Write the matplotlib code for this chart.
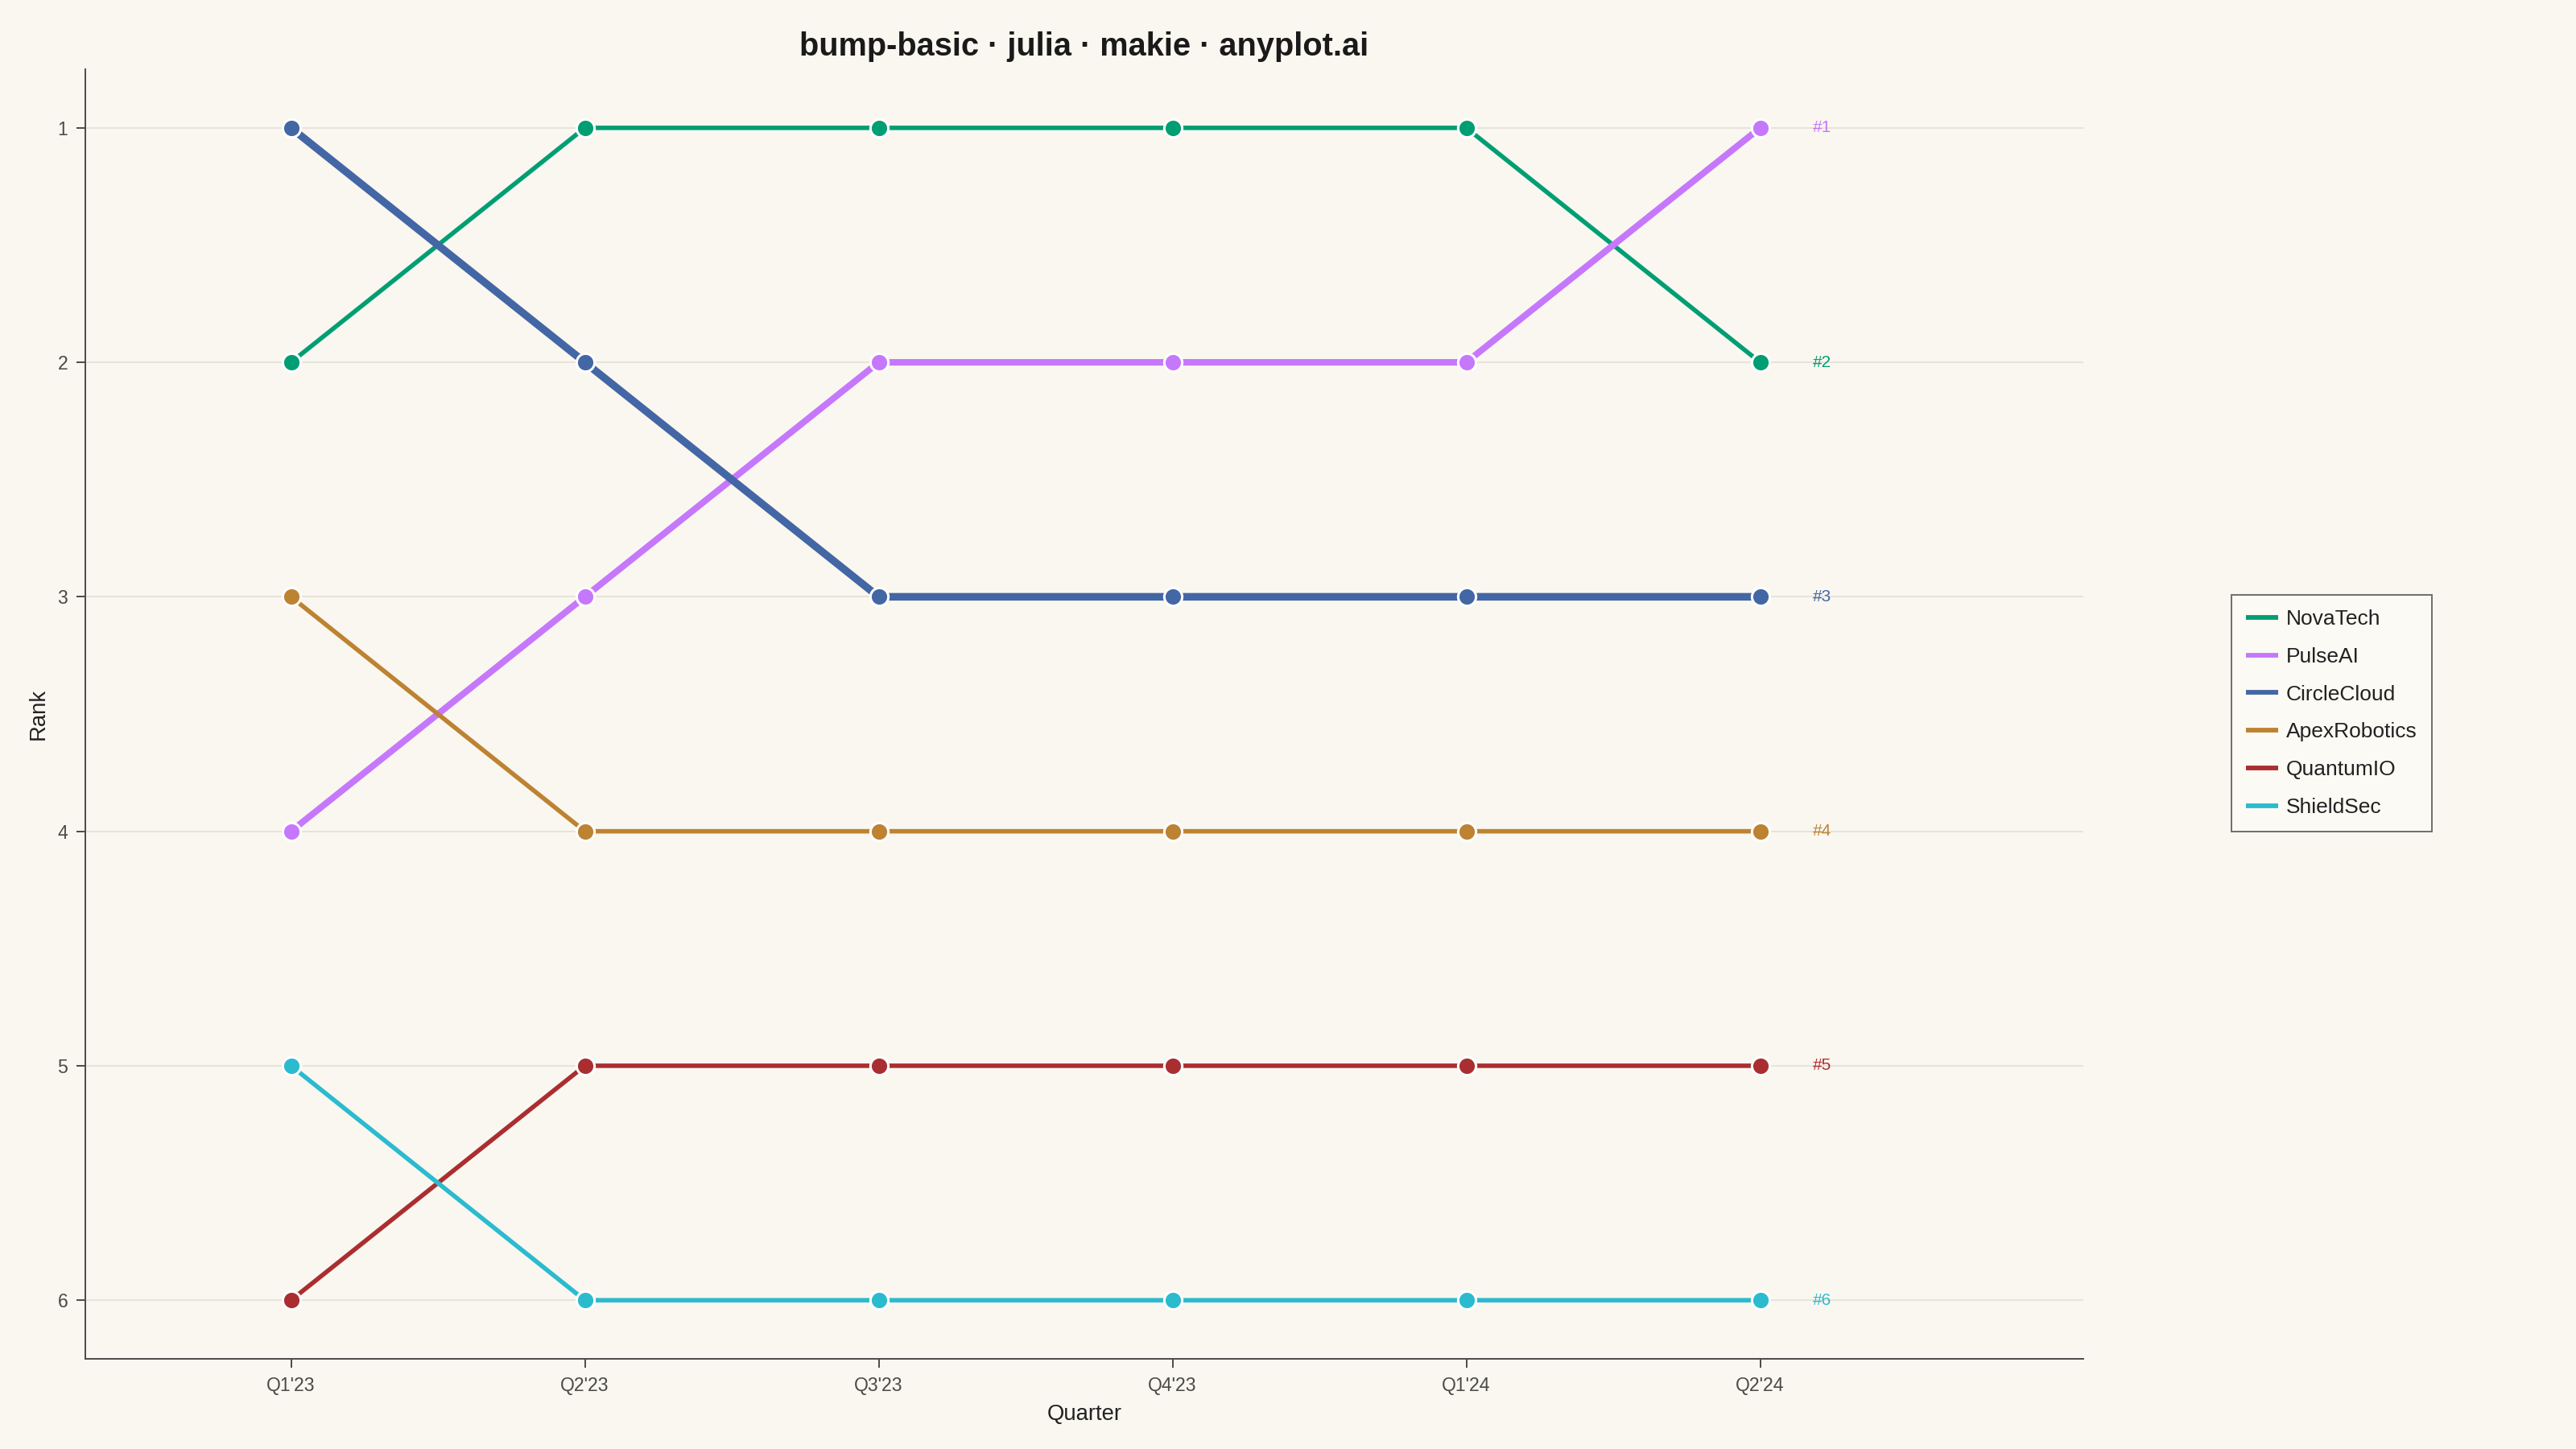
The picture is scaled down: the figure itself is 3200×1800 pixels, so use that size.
import matplotlib
matplotlib.use("Agg")
import matplotlib.pyplot as plt

plt.rcParams['font.family'] = ['Liberation Sans', 'DejaVu Sans']

quarters = ["Q1'23", "Q2'23", "Q3'23", "Q4'23", "Q1'24", "Q2'24"]
companies = ["NovaTech", "PulseAI", "CircleCloud", "ApexRobotics", "QuantumIO", "ShieldSec"]
novatech = [2, 1, 1, 1, 1, 2]
pulseai = [4, 3, 2, 2, 2, 1]
circlecloud = [1, 2, 3, 3, 3, 3]
apexrobotics = [3, 4, 4, 4, 4, 4]
quantumio = [6, 5, 5, 5, 5, 5]
shieldsec = [5, 6, 6, 6, 6, 6]
ranks = [novatech, pulseai, circlecloud, apexrobotics, quantumio, shieldsec]
colors = ["#009E73", "#C678FC", "#4366A5", "#BD8232", "#AA2E30", "#2BBBCF"]
widths = [2.0, 2.9, 3.4, 2.0, 2.0, 2.0]

BG = "#FAF7F0"
fig = plt.figure(figsize=(16, 9), dpi=200, facecolor=BG)
ax = fig.add_axes([106/3200, 1 - 1688/1800, (2588-106)/3200, (1688-86)/1800])
ax.set_facecolor(BG)

x = list(range(len(quarters)))
for name, r, c, lw in zip(companies, ranks, colors, widths):
    ax.plot(x, r, color=c, lw=lw, label=name, zorder=3, solid_capstyle='butt')
    ax.plot(x, r, ls='none', marker='o', ms=8.0, mfc=c, mec='white', mew=1.1, zorder=4)
    ax.text(x[-1] + 0.18, r[-1], f"#{r[-1]}", color=c, fontsize=7.5,
            va='center', ha='left', zorder=5)

ax.set_xlim(-0.7, 6.1)
ax.set_ylim(6.25, 0.75)
ax.set_xticks(x)
ax.set_xticklabels(quarters)
ax.set_yticks([1, 2, 3, 4, 5, 6])
ax.grid(axis='y', color='#E2DFD7', lw=0.6, zorder=0)
ax.grid(axis='x', visible=False)
for s in ['top', 'right']:
    ax.spines[s].set_visible(False)
for s in ['left', 'bottom']:
    ax.spines[s].set_color('#4A4A48')
    ax.spines[s].set_linewidth(0.7)
ax.tick_params(axis='both', colors='#4A4A48', labelsize=8.3, length=4, width=0.7,
               direction='out', pad=3.8)
ax.tick_params(axis='both', labelcolor='#4A4A48')

ax.set_xlabel("Quarter", fontsize=9.9, color='#222222', labelpad=4)
ax.set_ylabel("Rank", fontsize=9.9, color='#222222', labelpad=4)
ax.set_title("bump-basic · julia · makie · anyplot.ai", fontsize=14.3,
             fontweight='bold', color='#1A1A1A', pad=6)

handles, labels = ax.get_legend_handles_labels()
leg = fig.legend(handles, labels, loc='center left',
                 bbox_to_anchor=(2772/3200, 1 - 886/1800),
                 frameon=True, fontsize=9.5, handlelength=1.5, handletextpad=0.4,
                 labelspacing=0.86, borderpad=0.68, borderaxespad=0.0, fancybox=False)
leg.get_frame().set_facecolor('#FDFBF6')
leg.get_frame().set_edgecolor('#4A4A48')
leg.get_frame().set_linewidth(0.7)
for t in leg.get_texts():
    t.set_color('#222222')
for h in leg.legend_handles:
    h.set_linewidth(2.1)

fig.savefig("out.png", dpi=200, facecolor=BG)
